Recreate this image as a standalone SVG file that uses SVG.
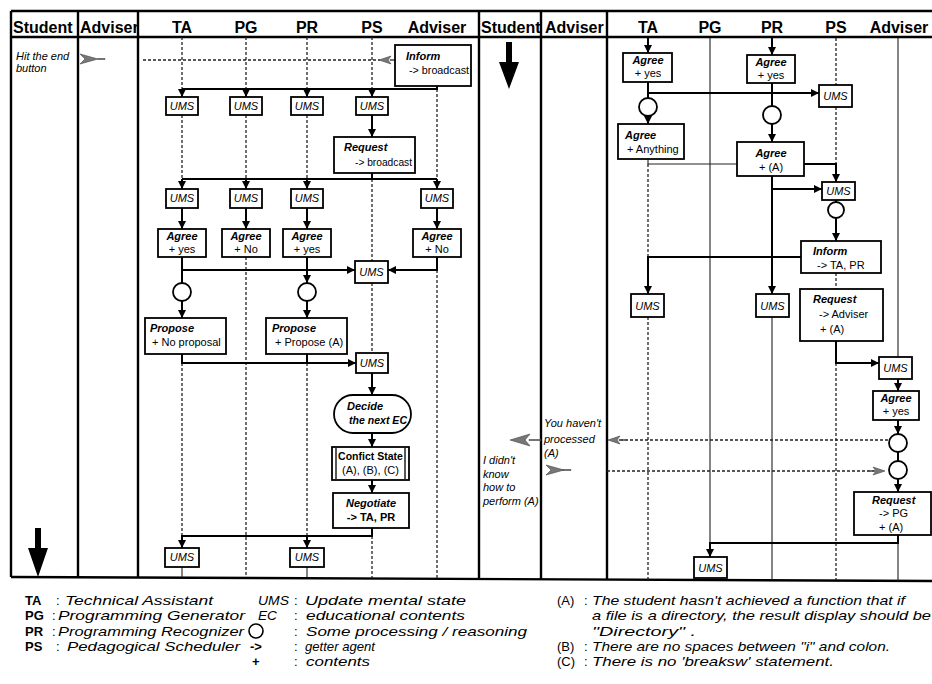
<svg xmlns="http://www.w3.org/2000/svg" width="932" height="684" viewBox="0 0 932 684">
<style>
.frame{stroke:#000;stroke-width:2.4;fill:none}
.box{fill:#fff;stroke:#000;stroke-width:1.8}
.conn{stroke:#000;stroke-width:2;fill:none}
.thin{stroke:#222;stroke-width:1.1;fill:none}
.life{stroke:#222;stroke-width:1.3;stroke-dasharray:3 2;fill:none}
.dot{stroke:#222;stroke-width:1.6;stroke-dasharray:3 2;fill:none}
.fz{fill:#777;stroke:#444;stroke-width:0.6}
.circ{fill:#fff;stroke:#000;stroke-width:1.8}
text{font-family:"Liberation Sans",Arial,sans-serif;fill:#000}
.hd{font-size:16px;font-weight:bold}
.bi{font-size:11px;font-weight:bold;font-style:italic}
.r{font-size:11px}
.rb{font-size:11px;font-weight:bold}
.it{font-size:11px;font-style:italic}
.lb{font-size:13px;font-weight:bold}
.li{font-size:13px;font-style:italic}
.lr{font-size:13px}
.m{text-anchor:middle}
</style>
<defs>
<marker id="a" viewBox="0 0 10 10" refX="10" refY="5" markerWidth="9" markerHeight="8" orient="auto" markerUnits="userSpaceOnUse"><path d="M0,0 L10,5 L0,10 z" fill="#000"/></marker>
</defs>

<g id="frame">
<path class="frame" d="M11,11 H932 M11,37 H932 M11,577 L932,581"/>
<path class="frame" d="M11,11 V577 M78,11 V577 M138,11 V577 M479,11 V579 M541,11 V580 M607,11 V580"/>
<text class="hd" x="13" y="33">Student</text>
<text class="hd" x="80" y="33">Adviser</text>
<text class="hd m" x="182" y="33">TA</text>
<text class="hd m" x="246" y="33">PG</text>
<text class="hd m" x="307" y="33">PR</text>
<text class="hd m" x="372" y="33">PS</text>
<text class="hd m" x="437" y="33">Adviser</text>
<text class="hd" x="481" y="33">Student</text>
<text class="hd" x="545" y="33">Adviser</text>
<text class="hd m" x="648" y="33">TA</text>
<text class="hd m" x="710" y="33">PG</text>
<text class="hd m" x="772" y="33">PR</text>
<text class="hd m" x="836" y="33">PS</text>
<text class="hd m" x="899" y="33">Adviser</text>
</g>

<g id="lifelines">
<path class="life" d="M182,37 V89 M182,115 V179 M182,363 V536 M246,37 V89 M246,115 V179 M246,257 V577 M307,37 V89 M307,115 V179 M307,363 V536 M372,37 V89 M372,179 V261 M372,283 V353 M372,536 V578 M437,89 V179 M437,270 V578"/>
<path class="life" d="M648,164 V257 M648,317 V580 M836,38 V85 M836,107 V164 M836,273 V289 M836,363 V580"/>
<path class="thin" d="M710,38 V543 M772,317 V580 M898,38 V357 M898,543 V581 M182,567 V577 M307,567 V577"/>
</g>

<g id="connectors">
<path class="conn" d="M437,86 V89 H182"/>
<path class="conn" marker-end="url(#a)" d="M182,89 V97"/>
<path class="conn" marker-end="url(#a)" d="M246,89 V97"/>
<path class="conn" marker-end="url(#a)" d="M307,89 V97"/>
<path class="conn" marker-end="url(#a)" d="M372,89 V97"/>
<path class="conn" marker-end="url(#a)" d="M372,115 V137"/>
<path class="conn" d="M182,179 H437 M372,173 V179"/>
<path class="conn" marker-end="url(#a)" d="M182,179 V189"/>
<path class="conn" marker-end="url(#a)" d="M246,179 V189"/>
<path class="conn" marker-end="url(#a)" d="M307,179 V189"/>
<path class="conn" marker-end="url(#a)" d="M437,179 V189"/>
<path class="conn" marker-end="url(#a)" d="M182,208 V229"/>
<path class="conn" marker-end="url(#a)" d="M246,208 V229"/>
<path class="conn" marker-end="url(#a)" d="M307,208 V229"/>
<path class="conn" marker-end="url(#a)" d="M437,208 V229"/>
<path class="conn" d="M182,257 V283"/>
<path class="conn" marker-end="url(#a)" d="M182,270 H355"/>
<path class="conn" marker-end="url(#a)" d="M437,257 V270 H388"/>
<path class="conn" marker-end="url(#a)" d="M307,257 V283"/>
<path class="conn" marker-end="url(#a)" d="M182,301 V318"/>
<path class="conn" marker-end="url(#a)" d="M307,301 V318"/>
<path class="conn" marker-end="url(#a)" d="M182,354 V363 H356"/>
<path class="conn" d="M307,354 V363"/>
<path class="conn" marker-end="url(#a)" d="M372,373 V395"/>
<path class="conn" marker-end="url(#a)" d="M372,433 V447"/>
<path class="conn" marker-end="url(#a)" d="M372,480 V493"/>
<path class="conn" marker-end="url(#a)" d="M372,528 V536 H182 V548"/>
<path class="conn" marker-end="url(#a)" d="M307,536 V548"/>
<path class="dot" d="M143,60 H380"/>
<path class="fz" d="M80,54 L98,59 L80,64 L85,59 Z M98,58.5 H105 V59.5 H98 Z"/>
<path class="fz" d="M379,60 L391,56 L388,60 L391,64 Z M390,59.5 H395 V60.5 H390 Z"/>

<path class="conn" marker-end="url(#a)" d="M648,38 V53"/>
<path class="conn" marker-end="url(#a)" d="M772,38 V55"/>
<path class="conn" d="M648,82 V98"/>
<path class="conn" marker-end="url(#a)" d="M648,93 H819"/>
<path class="conn" d="M772,83 V106"/>
<path class="conn" marker-end="url(#a)" d="M648,116 V124"/>
<path class="conn" marker-end="url(#a)" d="M772,124 V142"/>
<path class="thin" d="M648,159 V164 H737"/>
<path class="conn" marker-end="url(#a)" d="M804,164 H836 V182"/>
<path class="conn" marker-end="url(#a)" d="M772,176 V294"/>
<path class="conn" marker-end="url(#a)" d="M772,189 H822"/>
<path class="conn" d="M836,200 V202"/>
<path class="conn" marker-end="url(#a)" d="M836,218 V241"/>
<path class="conn" marker-end="url(#a)" d="M801,257 H648 V294"/>
<path class="conn" marker-end="url(#a)" d="M836,341 V363 H879"/>
<path class="conn" marker-end="url(#a)" d="M898,379 V391"/>
<path class="conn" marker-end="url(#a)" d="M898,420 V434"/>
<path class="conn" d="M898,452 V461"/>
<path class="conn" marker-end="url(#a)" d="M898,479 V492"/>
<path class="conn" marker-end="url(#a)" d="M898,535 V543 H710 V557"/>
<path class="dot" d="M620,440 H889"/>
<path class="dot" d="M607,471 H874"/>
<path class="fz" d="M608,440 L620,436 L617,440 L620,444 Z M619,439.5 H626 V440.5 H619 Z"/>
<path class="fz" d="M885,471 L873,467 L876,471 L873,475 Z M868,470.5 H875 V471.5 H868 Z"/>
<path class="fz" d="M510,440 L530,434 L525,440 L530,446 Z M529,439.5 H541 V440.5 H529 Z"/>
<path class="fz" d="M564,470 L546,465 L551,470 L546,475 Z M562,469.5 H571 V470.5 H562 Z"/>
</g>

<g id="student-arrows">
<path d="M35,528 H41 V548 H48 L38,577 L28,548 H35 Z" fill="#000"/>
<path d="M506,42 H512 V62 H519 L509,89 L499,62 H506 Z" fill="#000"/>
</g>

<g id="texts-free">
<text class="it" x="16" y="60">Hit the end</text>
<text class="it" x="16" y="72">button</text>
<text class="it" x="544" y="427">You haven't</text>
<text class="it" x="544" y="443">processed</text>
<text class="it" x="544" y="457">(A)</text>
<text class="it" x="483" y="464">I didn't</text>
<text class="it" x="483" y="478">know</text>
<text class="it" x="483" y="491">how to</text>
<text class="it" x="483" y="505">perform (A)</text>
</g>

<g id="n-inform-l"><rect class="box" x="395" y="45" width="76" height="41"/><text class="bi" x="406" y="60">Inform</text><text class="r" x="409" y="74" textLength="60" lengthAdjust="spacingAndGlyphs">-&gt; broadcast</text></g>
<g id="n-ums-ta1"><rect class="box" x="166" y="97" width="32" height="18"/><text class="it m" x="182" y="110">UMS</text></g>
<g id="n-ums-pg1"><rect class="box" x="230" y="97" width="32" height="18"/><text class="it m" x="246" y="110">UMS</text></g>
<g id="n-ums-pr1"><rect class="box" x="291" y="97" width="32" height="18"/><text class="it m" x="307" y="110">UMS</text></g>
<g id="n-ums-ps1"><rect class="box" x="356" y="97" width="32" height="18"/><text class="it m" x="372" y="110">UMS</text></g>
<g id="n-request-l"><rect class="box" x="334" y="137" width="81" height="36"/><text class="bi" x="344" y="151">Request</text><text class="r" x="355" y="166" textLength="57" lengthAdjust="spacingAndGlyphs">-&gt; broadcast</text></g>
<g id="n-ums-ta2"><rect class="box" x="166" y="189" width="32" height="19"/><text class="it m" x="182" y="202">UMS</text></g>
<g id="n-ums-pg2"><rect class="box" x="230" y="189" width="32" height="19"/><text class="it m" x="246" y="202">UMS</text></g>
<g id="n-ums-pr2"><rect class="box" x="291" y="189" width="32" height="19"/><text class="it m" x="307" y="202">UMS</text></g>
<g id="n-ums-ad2"><rect class="box" x="421" y="189" width="32" height="19"/><text class="it m" x="437" y="202">UMS</text></g>
<g id="n-agree-ta"><rect class="box" x="158" y="229" width="48" height="28"/><text class="bi m" x="182" y="240">Agree</text><text class="r m" x="182" y="253">+ yes</text></g>
<g id="n-agree-pg"><rect class="box" x="222" y="229" width="48" height="28"/><text class="bi m" x="246" y="240">Agree</text><text class="r m" x="246" y="253">+ No</text></g>
<g id="n-agree-pr"><rect class="box" x="283" y="229" width="48" height="28"/><text class="bi m" x="307" y="240">Agree</text><text class="r m" x="307" y="253">+ yes</text></g>
<g id="n-agree-ad"><rect class="box" x="413" y="229" width="48" height="28"/><text class="bi m" x="437" y="240">Agree</text><text class="r m" x="437" y="253">+ No</text></g>
<g id="n-ums-ps3"><rect class="box" x="355" y="261" width="33" height="22"/><text class="it m" x="371.5" y="276">UMS</text></g>
<g id="n-circ-ta"><circle class="circ" cx="182" cy="292" r="9"/></g>
<g id="n-circ-pr"><circle class="circ" cx="307" cy="292" r="9"/></g>
<g id="n-propose-ta"><rect class="box" x="145" y="318" width="81" height="36"/><text class="bi" x="150" y="332">Propose</text><text class="r" x="152" y="346">+ No proposal</text></g>
<g id="n-propose-pr"><rect class="box" x="266" y="318" width="81" height="36"/><text class="bi" x="272" y="332">Propose</text><text class="r" x="275" y="346">+ Propose (A)</text></g>
<g id="n-ums-ps4"><rect class="box" x="356" y="353" width="32" height="20"/><text class="it m" x="372" y="367">UMS</text></g>
<g id="n-decide"><rect class="box" x="334" y="395" width="77" height="38" rx="19"/><text class="bi" x="347" y="410">Decide</text><text class="bi" x="349" y="424" textLength="58" lengthAdjust="spacingAndGlyphs">the next EC</text></g>
<g id="n-conflict"><rect class="box" x="332" y="447" width="77" height="33"/><path class="thin" d="M336,447 V480 M405,447 V480" style="stroke-width:1.5"/><text class="rb m" x="370.5" y="460" style="font-size:10.5px">Confict State</text><text class="r m" x="370.5" y="474">(A), (B), (C)</text></g>
<g id="n-negotiate"><rect class="box" x="333" y="493" width="76" height="35"/><text class="bi m" x="371" y="507">Negotiate</text><text class="rb m" x="371" y="521">-&gt; TA, PR</text></g>
<g id="n-ums-ta5"><rect class="box" x="165" y="548" width="34" height="19"/><text class="it m" x="182" y="561">UMS</text></g>
<g id="n-ums-pr5"><rect class="box" x="290" y="548" width="34" height="19"/><text class="it m" x="307" y="561">UMS</text></g>

<g id="r-agree-ta"><rect class="box" x="623" y="53" width="49" height="29"/><text class="bi m" x="648" y="64">Agree</text><text class="r m" x="648" y="77">+ yes</text></g>
<g id="r-agree-pr"><rect class="box" x="747" y="55" width="48" height="28"/><text class="bi m" x="771" y="66">Agree</text><text class="r m" x="771" y="79">+ yes</text></g>
<g id="r-ums-ps1"><rect class="box" x="819" y="85" width="33" height="22"/><text class="it m" x="835.5" y="100">UMS</text></g>
<g id="r-circ-ta"><circle class="circ" cx="648" cy="107" r="9"/></g>
<g id="r-circ-pr"><circle class="circ" cx="772" cy="115" r="9"/></g>
<g id="r-agree-any"><rect class="box" x="618" y="124" width="66" height="35"/><text class="bi" x="625" y="139">Agree</text><text class="r" x="627" y="153">+ Anything</text></g>
<g id="r-agree-a"><rect class="box" x="737" y="142" width="67" height="34"/><text class="bi m" x="771" y="157">Agree</text><text class="r m" x="771" y="171">+ (A)</text></g>
<g id="r-ums-ps2"><rect class="box" x="822" y="182" width="33" height="18"/><text class="it m" x="838.5" y="195">UMS</text></g>
<g id="r-circ-ps"><circle class="circ" cx="836" cy="210" r="8"/></g>
<g id="r-inform"><rect class="box" x="801" y="241" width="80" height="32"/><text class="bi" x="813" y="255">Inform</text><text class="r" x="817" y="269">-&gt; TA, PR</text></g>
<g id="r-request-ad"><rect class="box" x="800" y="289" width="83" height="52"/><text class="bi" x="813" y="303">Request</text><text class="r" x="819" y="318">-&gt; Adviser</text><text class="r" x="820" y="333">+ (A)</text></g>
<g id="r-ums-ta"><rect class="box" x="631" y="294" width="33" height="23"/><text class="it m" x="647.5" y="310">UMS</text></g>
<g id="r-ums-pr"><rect class="box" x="756" y="294" width="33" height="23"/><text class="it m" x="772.5" y="310">UMS</text></g>
<g id="r-ums-ad"><rect class="box" x="879" y="357" width="33" height="22"/><text class="it m" x="895.5" y="372">UMS</text></g>
<g id="r-agree-ad"><rect class="box" x="873" y="391" width="46" height="29"/><text class="bi m" x="896" y="402">Agree</text><text class="r m" x="896" y="415">+ yes</text></g>
<g id="r-circ-ad1"><circle class="circ" cx="898" cy="443" r="9"/></g>
<g id="r-circ-ad2"><circle class="circ" cx="898" cy="470" r="9"/></g>
<g id="r-request-pg"><rect class="box" x="854" y="492" width="77" height="43"/><text class="bi" x="872" y="504">Request</text><text class="r" x="879" y="517">-&gt; PG</text><text class="r" x="879" y="531">+ (A)</text></g>
<g id="r-ums-pg"><rect class="box" x="694" y="557" width="33" height="21"/><text class="it m" x="710.5" y="572">UMS</text></g>

<g id="legend">
<text class="lb" x="25" y="605">TA</text><text class="lr" x="56" y="605">:</text><text class="li" x="65" y="605" textLength="148" lengthAdjust="spacingAndGlyphs">Technical Assistant</text>
<text class="lb" x="25" y="620">PG</text><text class="lr" x="52" y="620">:</text><text class="li" x="58" y="620" textLength="187" lengthAdjust="spacingAndGlyphs">Programming Generator</text>
<text class="lb" x="25" y="636">PR</text><text class="lr" x="52" y="636">:</text><text class="li" x="58" y="636" textLength="186" lengthAdjust="spacingAndGlyphs">Programming Recognizer</text>
<text class="lb" x="25" y="651">PS</text><text class="lr" x="56" y="651">:</text><text class="li" x="67" y="651" textLength="173" lengthAdjust="spacingAndGlyphs">Pedagogical Scheduler</text>
<text class="li" x="258" y="605" textLength="31" lengthAdjust="spacingAndGlyphs">UMS</text><text class="lr" x="294" y="605">:</text><text class="li" x="305" y="605" textLength="161" lengthAdjust="spacingAndGlyphs">Update mental state</text>
<text class="li" x="258" y="620" textLength="19" lengthAdjust="spacingAndGlyphs">EC</text><text class="lr" x="294" y="620">:</text><text class="li" x="306" y="620" textLength="159" lengthAdjust="spacingAndGlyphs">educational contents</text>
<circle cx="256" cy="631" r="7" fill="none" stroke="#000" stroke-width="1.6"/><text class="lr" x="294" y="636">:</text><text class="li" x="306" y="636" textLength="221" lengthAdjust="spacingAndGlyphs">Some processing / reasoning</text>
<text class="lb" x="250" y="651">-&gt;</text><text class="lr" x="294" y="651">:</text><text class="li" x="305" y="651" textLength="70" lengthAdjust="spacingAndGlyphs">getter agent</text>
<text class="lb" x="252" y="666">+</text><text class="lr" x="294" y="666">:</text><text class="li" x="306" y="666" textLength="64" lengthAdjust="spacingAndGlyphs">contents</text>
<text class="lr" x="557" y="605">(A)</text><text class="lr" x="584" y="605">:</text><text class="li" x="592" y="605" textLength="313" lengthAdjust="spacingAndGlyphs">The student hasn't achieved a function that if</text>
<text class="li" x="592" y="620" textLength="339" lengthAdjust="spacingAndGlyphs">a file is a directory, the result display should be</text>
<text class="li" x="592" y="636" textLength="104" lengthAdjust="spacingAndGlyphs">"Directory" .</text>
<text class="lr" x="557" y="651">(B)</text><text class="lr" x="584" y="651">:</text><text class="li" x="592" y="651" textLength="298" lengthAdjust="spacingAndGlyphs">There are no spaces between "i" and colon.</text>
<text class="lr" x="557" y="666">(C)</text><text class="lr" x="584" y="666">:</text><text class="li" x="592" y="666" textLength="242" lengthAdjust="spacingAndGlyphs">There is no 'breaksw' statement.</text>
</g>
</svg>
